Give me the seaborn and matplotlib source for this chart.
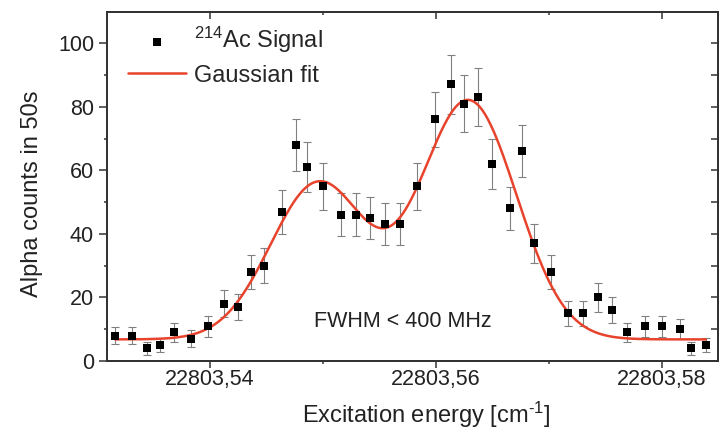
import numpy as np
import pandas as pd
import matplotlib
matplotlib.use("Agg")
import matplotlib.pyplot as plt
from matplotlib.ticker import FixedLocator, FuncFormatter, NullFormatter
import seaborn as sns

# Measured alpha counts versus laser excitation energy
energy = [22803.5316, 22803.5331, 22803.5344, 22803.5356, 22803.5368, 22803.5383,
          22803.5398, 22803.5412, 22803.5425, 22803.5436, 22803.5448, 22803.5464,
          22803.5476, 22803.5486, 22803.5500, 22803.5516, 22803.5529, 22803.5542,
          22803.5555, 22803.5568, 22803.5583, 22803.5599, 22803.5613, 22803.5625,
          22803.5637, 22803.5650, 22803.5666, 22803.5676, 22803.5687, 22803.5702,
          22803.5717, 22803.5730, 22803.5744, 22803.5756, 22803.5769, 22803.5785,
          22803.5800, 22803.5816, 22803.5826, 22803.5839]
counts = [8, 8, 4, 5, 9, 7, 11, 18, 17, 28,
          30, 47, 68, 61, 55, 46, 46, 45, 43, 43,
          55, 76, 87, 81, 83, 62, 48, 66, 37, 28,
          15, 15, 20, 16, 9, 11, 11, 10, 4, 5]
count_err = [2.8, 2.8, 2.0, 2.2, 3.0, 2.6, 3.3, 4.2, 4.1, 5.3,
             5.5, 6.9, 8.2, 7.8, 7.4, 6.8, 6.8, 6.7, 6.6, 6.6,
             7.4, 8.7, 9.3, 9.0, 9.1, 7.9, 6.9, 8.1, 6.1, 5.3,
             3.9, 3.9, 4.5, 4.0, 3.0, 3.3, 3.3, 3.2, 2.0, 2.2]

# Double-Gaussian fit parameters
fit_background = 6.8
fit_amp1, fit_center1 = 49.2, 22803.5496
fit_amp2, fit_center2 = 75.0, 22803.5629
fit_sigma = 0.00424

x_ticks = [22803.54, 22803.56, 22803.58]
x_minor = [22803.55, 22803.57]
y_ticks = [0, 20, 40, 60, 80, 100]
y_minor = [10, 30, 50, 70, 90]

sns.set_style("ticks")
plt.rcParams["font.family"] = ["Liberation Sans", "DejaVu Sans"]
plt.rcParams["mathtext.fontset"] = "custom"
plt.rcParams["mathtext.rm"] = "Liberation Sans"
plt.rcParams["mathtext.it"] = "Liberation Sans:italic"

ink = "#222222"
axis_col = "#333333"

df = pd.DataFrame({"energy": energy, "counts": counts, "err": count_err})
x_fit = np.linspace(energy[0], energy[-1], 600)
y_fit = (fit_background
         + fit_amp1 * np.exp(-(x_fit - fit_center1) ** 2 / (2 * fit_sigma ** 2))
         + fit_amp2 * np.exp(-(x_fit - fit_center2) ** 2 / (2 * fit_sigma ** 2)))
fit_df = pd.DataFrame({"energy": x_fit, "counts": y_fit})

fig = plt.figure(figsize=(7.27, 4.34), dpi=100)
ax = fig.add_axes([0.1472, 0.1682, 0.8404, 0.8041])

ax.errorbar(df["energy"], df["counts"], yerr=df["err"], fmt="none",
            ecolor="#808080", elinewidth=0.8, capsize=2.8, capthick=0.8, zorder=2)
sns.lineplot(data=fit_df, x="energy", y="counts", ax=ax, color="#e8432d",
             linewidth=1.8, label="Gaussian fit", zorder=3)
sns.scatterplot(data=df, x="energy", y="counts", ax=ax, marker="s", s=28,
                color="black", edgecolor="black", linewidth=0,
                label="$^{214}$Ac Signal", zorder=4)

ax.set_xlim(22803.530885, 22803.584982)
ax.set_ylim(0, 109.8)

ax.xaxis.set_major_locator(FixedLocator(x_ticks))
ax.xaxis.set_minor_locator(FixedLocator(x_minor))
ax.xaxis.set_major_formatter(FuncFormatter(lambda v, p: f"{v:.2f}".replace(".", ",")))
ax.yaxis.set_major_locator(FixedLocator(y_ticks))
ax.yaxis.set_minor_locator(FixedLocator(y_minor))
ax.tick_params(which="major", direction="out", width=1.1, colors=axis_col,
               labelsize=15.5, labelcolor=ink)
ax.tick_params(axis="x", which="major", length=4.8, pad=1)
ax.tick_params(axis="y", which="major", length=5.8, pad=3.5)
ax.tick_params(which="minor", direction="out", length=2.5, width=1.1, colors=axis_col)

for s in ax.spines.values():
    s.set_color(axis_col)
    s.set_linewidth(1.3)

# Inward ticks on top and right
axt = ax.twiny()
axt.set_xlim(ax.get_xlim())
axt.xaxis.set_major_locator(FixedLocator(x_ticks))
axt.xaxis.set_minor_locator(FixedLocator(x_minor))
axt.xaxis.set_major_formatter(NullFormatter())
axt.tick_params(which="major", direction="in", length=4.8, width=1.1, colors=axis_col)
axt.tick_params(which="minor", direction="in", length=2.4, width=1.1, colors=axis_col)
axr = ax.twinx()
axr.set_ylim(ax.get_ylim())
axr.yaxis.set_major_locator(FixedLocator(y_ticks))
axr.yaxis.set_minor_locator(FixedLocator(y_minor))
axr.yaxis.set_major_formatter(NullFormatter())
axr.tick_params(which="both", direction="in", length=4.8, width=1.1, colors=axis_col)
for a in (axt, axr):
    for s in a.spines.values():
        s.set_color(axis_col)
        s.set_linewidth(1.3)

ax.set_xlabel(r"Excitation energy [cm$^{\text{-1}}$]", fontsize=17, color=ink)
ax.xaxis.set_label_coords(0.523, -0.112)
ax.set_ylabel("Alpha counts in 50s", fontsize=17, color=ink)
ax.yaxis.set_label_coords(-0.105, 0.48)

ax.text(22803.5571, 12.3, "FWHM < 400 MHz", fontsize=15.5, color=ink,
        ha="center", va="center")

handles, labels = ax.get_legend_handles_labels()
order = [labels.index("$^{214}$Ac Signal"), labels.index("Gaussian fit")]
ax.legend([handles[i] for i in order], [labels[i] for i in order],
          loc="upper left", bbox_to_anchor=(0.019, 0.99), frameon=False,
          fontsize=17, handlelength=2.46, handletextpad=0.34, labelspacing=0.4,
          borderaxespad=0.0, markerscale=1.0)

fig.savefig("out.png", dpi=100)
